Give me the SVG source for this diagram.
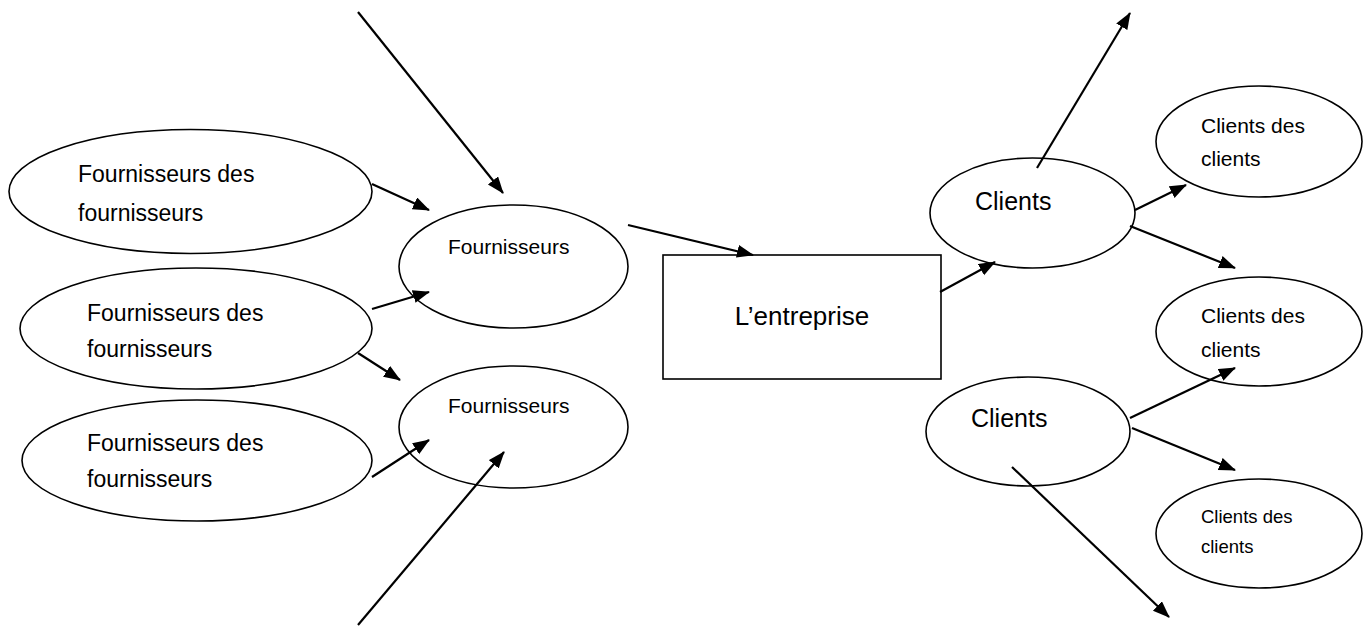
<svg xmlns="http://www.w3.org/2000/svg" width="1370" height="626" viewBox="0 0 1370 626">
  <style>
    .shape { fill: #ffffff; stroke: #000000; stroke-width: 1.6; }
    .link { fill: none; stroke: #000000; stroke-width: 2.2; marker-end: url(#arrow); }
    text { font-family: "Liberation Sans", Arial, sans-serif; fill: #000000; }
    .big { font-size: 23px; }
    .mid { font-size: 21px; }
    .cl { font-size: 25px; }
    .small { font-size: 18.5px; }
  </style>
  <defs>
    <marker id="arrow" markerUnits="userSpaceOnUse" markerWidth="18" markerHeight="14" refX="16" refY="6.5" orient="auto">
      <path d="M0,0 L17,6.5 L0,13 z" fill="#000000"/>
    </marker>
  </defs>
  <rect width="1370" height="626" fill="#ffffff"/>

  <!-- suppliers of suppliers -->
  <g id="fdf1">
    <ellipse class="shape" cx="190.5" cy="191.5" rx="181.5" ry="62"/>
    <text class="big" x="78" y="182">Fournisseurs des</text>
    <text class="big" x="78" y="221">fournisseurs</text>
  </g>
  <g id="fdf2">
    <ellipse class="shape" cx="196" cy="328.5" rx="176" ry="60.5"/>
    <text class="big" x="87" y="321">Fournisseurs des</text>
    <text class="big" x="87" y="357">fournisseurs</text>
  </g>
  <g id="fdf3">
    <ellipse class="shape" cx="197" cy="460.5" rx="175" ry="60.5"/>
    <text class="big" x="87" y="451">Fournisseurs des</text>
    <text class="big" x="87" y="487">fournisseurs</text>
  </g>

  <!-- suppliers -->
  <g id="fournisseurs1">
    <ellipse class="shape" cx="513.5" cy="266.5" rx="114.5" ry="61.5"/>
    <text class="mid" x="448" y="254">Fournisseurs</text>
  </g>
  <g id="fournisseurs2">
    <ellipse class="shape" cx="513.5" cy="427" rx="114.5" ry="61"/>
    <text class="mid" x="448" y="413">Fournisseurs</text>
  </g>

  <!-- the company -->
  <g id="entreprise">
    <rect class="shape" x="663" y="255" width="278" height="124"/>
    <text x="802" y="325" font-size="26" text-anchor="middle">L’entreprise</text>
  </g>

  <!-- customers -->
  <g id="clients1">
    <ellipse class="shape" cx="1032.5" cy="213" rx="102.5" ry="55"/>
    <text class="cl" x="975" y="210">Clients</text>
  </g>
  <g id="clients2">
    <ellipse class="shape" cx="1028" cy="431.5" rx="102" ry="54.5"/>
    <text class="cl" x="971" y="427">Clients</text>
  </g>

  <!-- customers of customers -->
  <g id="cdc1">
    <ellipse class="shape" cx="1259" cy="141.5" rx="103" ry="55.5"/>
    <text class="mid" x="1201" y="133">Clients des</text>
    <text class="mid" x="1201" y="166">clients</text>
  </g>
  <g id="cdc2">
    <ellipse class="shape" cx="1259" cy="331.5" rx="103" ry="54.5"/>
    <text class="mid" x="1201" y="323">Clients des</text>
    <text class="mid" x="1201" y="357">clients</text>
  </g>
  <g id="cdc3">
    <ellipse class="shape" cx="1259" cy="533.5" rx="103" ry="54.5"/>
    <text class="small" x="1201" y="523">Clients des</text>
    <text class="small" x="1201" y="553">clients</text>
  </g>

  <!-- connectors -->
  <g id="connectors">
    <line class="link" x1="358" y1="12" x2="503" y2="193"/>
    <line class="link" x1="372" y1="184" x2="429" y2="210"/>
    <line class="link" x1="372" y1="309" x2="429" y2="292"/>
    <line class="link" x1="358" y1="353" x2="400" y2="380"/>
    <line class="link" x1="372" y1="477" x2="429" y2="440"/>
    <line class="link" x1="358" y1="625" x2="504" y2="452"/>
    <line class="link" x1="628" y1="225" x2="753" y2="255"/>
    <line class="link" x1="940" y1="292" x2="995" y2="262"/>
    <line class="link" x1="1037" y1="168" x2="1130" y2="13"/>
    <line class="link" x1="1135" y1="210" x2="1186" y2="185"/>
    <line class="link" x1="1130" y1="226" x2="1235" y2="268"/>
    <line class="link" x1="1130" y1="418" x2="1235" y2="368"/>
    <line class="link" x1="1132" y1="428" x2="1235" y2="470"/>
    <line class="link" x1="1012" y1="467" x2="1169" y2="617"/>
  </g>
</svg>
